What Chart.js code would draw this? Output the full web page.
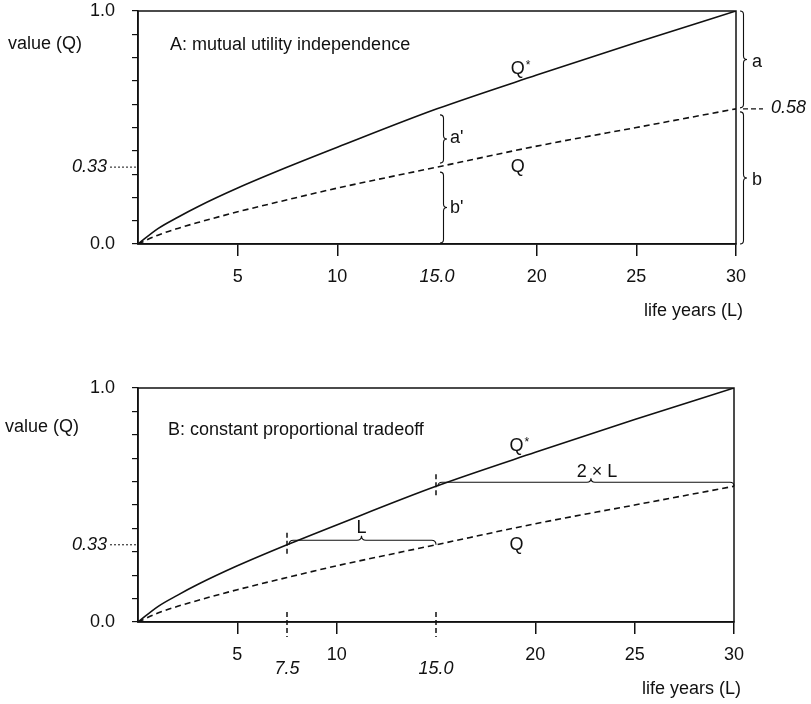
<!DOCTYPE html>
<html>
<head>
<meta charset="utf-8">
<script src="https://cdn.jsdelivr.net/npm/chart.js@4.4.1/dist/chart.umd.min.js"></script>
<style>
  html, body { margin: 0; padding: 0; background: #fff; }
  #wrap { position: relative; width: 811px; height: 704px; }
  canvas { position: absolute; left: 0; }
</style>
</head>
<body>
<div id="wrap">
  <canvas id="panelA" width="811" height="352" style="top:0"></canvas>
  <canvas id="panelB" width="811" height="352" style="top:352px"></canvas>
</div>
<script>
// Life years (L) at which the curves are sampled
const lifeYears = [0, 1, 2, 3, 5, 7.5, 10, 15, 20, 25, 30];
// Q*: value of L years in full health
const valueFullHealth = [0, 0.066, 0.115, 0.16, 0.24, 0.33, 0.415, 0.58, 0.725, 0.865, 1.0];
// Q: value of L years in the impaired health state
const valueImpaired = [0, 0.038, 0.067, 0.092, 0.138, 0.19, 0.24, 0.33, 0.42, 0.50, 0.58];

// Axis ticks
const xTicksA = [5, 10, 15, 20, 25, 30];
const xTicksB = [5, 10, 20, 25, 30];
const yTicks = [0, 0.1, 0.2, 0.3, 0.4, 0.5, 0.6, 0.7, 0.8, 0.9, 1.0];

// Marked values
const levelLow = 0.33;            // Q at 15 years, Q* at 7.5 years
const levelHigh = 0.58;           // Q at 30 years, Q* at 15 years
const tradeoffYears = [7.5, 15];  // panel B: L and 2 x L
const maxYears = 30;

const FONT = '"Liberation Sans", Arial, Helvetica, sans-serif';
const INK = '#111';

function font(size, italic) {
  return (italic ? 'italic ' : '') + size + 'px ' + FONT;
}

function text(ctx, str, x, y, align, size, italic) {
  ctx.save();
  ctx.font = font(size || 18, italic);
  ctx.fillStyle = INK;
  ctx.textAlign = align || 'left';
  ctx.textBaseline = 'middle';
  ctx.fillText(str, x, y);
  ctx.restore();
}

// Q with a raised asterisk
function qStar(ctx, x, y) {
  text(ctx, 'Q', x, y, 'left', 18);
  ctx.save();
  ctx.font = font(18);
  const w = ctx.measureText('Q').width;
  ctx.restore();
  text(ctx, '*', x + w + 1, y - 4, 'left', 12);
}

function line(ctx, x1, y1, x2, y2, width, dash) {
  ctx.save();
  ctx.strokeStyle = INK;
  ctx.lineWidth = width || 1;
  ctx.setLineDash(dash || []);
  ctx.beginPath();
  ctx.moveTo(x1, y1);
  ctx.lineTo(x2, y2);
  ctx.stroke();
  ctx.restore();
}

// Vertical curly brace from y1 (top) to y2 (bottom), tip pointing right
function vBrace(ctx, x, y1, y2, q) {
  const mid = (y1 + y2) / 2;
  ctx.save();
  ctx.strokeStyle = INK;
  ctx.lineWidth = 1.1;
  ctx.beginPath();
  ctx.moveTo(x, y1);
  ctx.quadraticCurveTo(x + q, y1, x + q, y1 + q);
  ctx.lineTo(x + q, mid - q);
  ctx.quadraticCurveTo(x + q, mid, x + 2 * q, mid);
  ctx.quadraticCurveTo(x + q, mid, x + q, mid + q);
  ctx.lineTo(x + q, y2 - q);
  ctx.quadraticCurveTo(x + q, y2, x, y2);
  ctx.stroke();
  ctx.restore();
}

// Horizontal curly brace from x1 to x2 with ends at y, tip pointing up at tipX
function hBrace(ctx, x1, x2, y, q, tipX) {
  const mid = tipX;
  ctx.save();
  ctx.strokeStyle = INK;
  ctx.lineWidth = 1.1;
  ctx.beginPath();
  ctx.moveTo(x1, y);
  ctx.quadraticCurveTo(x1, y - q, x1 + q, y - q);
  ctx.lineTo(mid - q, y - q);
  ctx.quadraticCurveTo(mid, y - q, mid, y - 2 * q);
  ctx.quadraticCurveTo(mid, y - q, mid + q, y - q);
  ctx.lineTo(x2 - q, y - q);
  ctx.quadraticCurveTo(x2, y - q, x2, y);
  ctx.stroke();
  ctx.restore();
}

function valueAt(series, years) {
  return series[lifeYears.indexOf(years)];
}

// Annotations shared by both panels
function drawCommon(chart, p) {
  const ctx = chart.ctx, a = chart.chartArea;
  const xs = chart.scales.x, ys = chart.scales.y;
  // frame
  ctx.save();
  ctx.strokeStyle = INK;
  ctx.lineWidth = 1.5;
  ctx.strokeRect(a.left, a.top, a.right - a.left, a.bottom - a.top);
  ctx.restore();
  // panel title and axis titles
  text(ctx, p.title, a.left + p.titleDx, a.top + p.titleDy, 'left', 18);
  text(ctx, 'value (Q)', p.yLabelX, a.top + p.yLabelDy, 'left', 18);
  text(ctx, 'life years (L)', a.right + 7, a.bottom + 67, 'right', 18);
  // 0.33 marker on the value axis
  const y33 = ys.getPixelForValue(levelLow);
  line(ctx, a.left - 28, y33, a.left - 1, y33, 1, [2, 2]);
  text(ctx, '0.33', a.left - 31, y33, 'right', 18, true);
  // curve labels
  qStar(ctx, xs.getPixelForValue(18.7), ys.getPixelForValue(0.75));
  text(ctx, 'Q', xs.getPixelForValue(18.7), ys.getPixelForValue(0.33), 'left', 18);
}

function drawA(chart) {
  const ctx = chart.ctx;
  const xs = chart.scales.x, ys = chart.scales.y;
  const x15 = xs.getPixelForValue(15);
  const qs15 = ys.getPixelForValue(valueAt(valueFullHealth, 15));
  const q15 = ys.getPixelForValue(valueAt(valueImpaired, 15));
  const y0 = ys.getPixelForValue(0);
  // a' and b' at 15 years
  vBrace(ctx, x15 + 3, qs15 + 6, q15 - 4, 3.5);
  vBrace(ctx, x15 + 3, q15 + 5, y0 - 1, 3.5);
  text(ctx, "a'", x15 + 13, (qs15 + q15) / 2, 'left', 18);
  text(ctx, "b'", x15 + 13, (q15 + y0) / 2 + 2, 'left', 18);
  // a and b at 30 years
  const x30 = xs.getPixelForValue(maxYears);
  const yTop = ys.getPixelForValue(valueAt(valueFullHealth, maxYears));
  const y58 = ys.getPixelForValue(valueAt(valueImpaired, maxYears));
  vBrace(ctx, x30 + 4, yTop, y58 - 1, 3.5);
  vBrace(ctx, x30 + 4, y58 + 3, y0, 3.5);
  text(ctx, 'a', x30 + 16, (yTop + y58) / 2 + 2, 'left', 18);
  text(ctx, 'b', x30 + 16, (y58 + y0) / 2 + 4, 'left', 18);
  // 0.58 marker
  line(ctx, x30 + 7, y58, x30 + 27, y58, 1.2, [5, 3]);
  text(ctx, '0.58', x30 + 35, y58 - 1, 'left', 18, true);
}

function drawB(chart) {
  const ctx = chart.ctx;
  const xs = chart.scales.x, ys = chart.scales.y;
  const y0 = ys.getPixelForValue(0);
  // dashed markers at L and 2 x L, on the axis and on Q*
  tradeoffYears.forEach(v => {
    const x = xs.getPixelForValue(v);
    const yc = ys.getPixelForValue(valueAt(valueFullHealth, v));
    line(ctx, x, y0 - 10, x, y0 + 15, 1.5, [5, 3]);
    line(ctx, x, yc - 12, x, yc + 10, 1.5, [5, 3]);
    text(ctx, v === 15 ? '15.0' : String(v), x, y0 + 47, 'center', 18, true);
  });
  // L bracket at Q = 0.33
  const xL = xs.getPixelForValue(tradeoffYears[0]);
  const x2L = xs.getPixelForValue(tradeoffYears[1]);
  const x30 = xs.getPixelForValue(maxYears);
  const yLow = ys.getPixelForValue(levelLow);
  const yHigh = ys.getPixelForValue(levelHigh);
  const midL = xs.getPixelForValue(11.25);
  hBrace(ctx, xL + 2, x2L, yLow, 4.5, midL);
  text(ctx, 'L', midL, yLow - 17, 'center', 18);
  // 2 x L bracket at Q = 0.58
  const mid2L = xs.getPixelForValue(22.8);
  hBrace(ctx, x2L + 2, x30, yHigh, 4, mid2L);
  text(ctx, '2 \u00d7 L', mid2L + 6, yHigh - 14, 'center', 18);
}

const panels = {
  panelA: {
    padTop: 11, padRight: 75, axisH: 108, xTicks: xTicksA,
    title: 'A: mutual utility independence', titleDx: 32, titleDy: 34,
    yLabelX: 8, yLabelDy: 33, extra: drawA, hiddenTick: 15
  },
  panelB: {
    padTop: 36, padRight: 77, axisH: 82, xTicks: xTicksB,
    title: 'B: constant proportional tradeoff', titleDx: 30, titleDy: 42,
    yLabelX: 5, yLabelDy: 39, extra: drawB, hiddenTick: null
  }
};

function points(series) {
  return lifeYears.map((L, i) => ({ x: L, y: series[i] }));
}

Object.keys(panels).forEach(id => {
  const p = panels[id];
  new Chart(document.getElementById(id), {
    type: 'line',
    data: {
      datasets: [
        {
          label: 'Q*',
          data: points(valueFullHealth),
          borderColor: INK, borderWidth: 1.6,
          pointRadius: 0, cubicInterpolationMode: 'monotone', fill: false
        },
        {
          label: 'Q',
          data: points(valueImpaired),
          borderColor: INK, borderWidth: 1.6, borderDash: [6, 4],
          pointRadius: 0, cubicInterpolationMode: 'monotone', fill: false
        }
      ]
    },
    options: {
      responsive: false,
      animation: false,
      devicePixelRatio: 1,
      layout: { padding: { top: p.padTop, right: p.padRight, left: 0, bottom: 0 } },
      plugins: { legend: { display: false }, tooltip: { enabled: false } },
      scales: {
        x: {
          type: 'linear', min: 0, max: maxYears,
          afterBuildTicks: s => { s.ticks = p.xTicks.map(v => ({ value: v })); },
          afterFit: s => { s.height = p.axisH; s.paddingLeft = 0; s.paddingRight = 0; },
          border: { display: true, color: INK, width: 1.5 },
          grid: {
            drawOnChartArea: false, drawTicks: true, tickLength: 12, lineWidth: 1.5,
            color: INK,
            tickColor: c => (c.tick && c.tick.value === p.hiddenTick) ? 'rgba(0,0,0,0)' : INK
          },
          ticks: {
            color: INK, padding: 10, maxRotation: 0, autoSkip: false,
            callback: v => v === 15 ? '15.0' : String(v),
            font: c => ({ family: FONT, size: 18, style: (c.tick && c.tick.value === 15) ? 'italic' : 'normal' })
          }
        },
        y: {
          type: 'linear', min: 0, max: 1,
          afterBuildTicks: s => { s.ticks = yTicks.map(v => ({ value: v })); },
          afterFit: s => { s.width = 138; s.paddingTop = 0; s.paddingBottom = 0; },
          border: { display: true, color: INK, width: 1.5 },
          grid: {
            drawOnChartArea: false, drawTicks: true, tickLength: 6, lineWidth: 1.2,
            color: INK, tickColor: INK
          },
          ticks: {
            color: INK, padding: 17, autoSkip: false,
            callback: v => (v === 0 ? '0.0' : (v === 1 ? '1.0' : '')),
            font: { family: FONT, size: 18 }
          }
        }
      }
    },
    plugins: [{
      id: 'panelNotes',
      afterDraw: chart => { drawCommon(chart, p); p.extra(chart); }
    }]
  });
});
</script>
</body>
</html>
